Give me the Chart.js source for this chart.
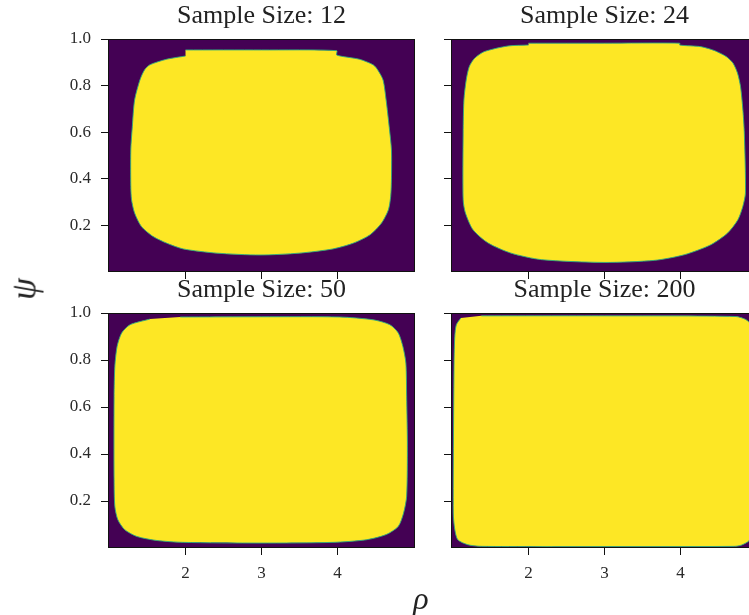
<!DOCTYPE html>
<html>
<head>
<meta charset="utf-8">
<script src="https://cdn.jsdelivr.net/npm/chart.js@4.4.1/dist/chart.umd.min.js"></script>
<style>
  html, body { margin: 0; padding: 0; width: 749px; height: 615px; overflow: hidden; background: #fff; }
  canvas { position: absolute; }
  .lab { position: absolute; font-family: "Liberation Serif", serif; font-style: italic; color: #222;
         line-height: 1; transform: translate(-50%, -50%); white-space: nowrap; }
</style>
</head>
<body>
<canvas id="p12"  width="420" height="296" style="left:0;top:0"></canvas>
<canvas id="p24"  width="322" height="296" style="left:441px;top:0"></canvas>
<canvas id="p50"  width="420" height="319" style="left:0;top:274px"></canvas>
<canvas id="p200" width="322" height="319" style="left:441px;top:274px"></canvas>
<div class="lab" id="lab-psi" style="left:24px;top:289px;font-size:35px;transform:translate(-50%,-50%) rotate(-90deg)">ψ</div>
<div class="lab" id="lab-rho" style="left:421px;top:598px;font-size:32px">ρ</div>

<script>
/* ── Axes ─────────────────────────────────────────────────── */
const RHO_MIN = 0.98, RHO_MAX = 5.02;
const PSI_MIN = 0,    PSI_MAX = 1.0;
const xTicks  = [2, 3, 4];
const yTicks  = [0.2, 0.4, 0.6, 0.8, 1.0];

/* ── Frontière de la région (clé = taille d'échantillon) ──── */
const bord12X = [2.00, 3.00, 3.99, 3.99, 4.29, 4.47, 4.53, 4.60, 4.64, 4.68, 4.71, 4.71, 4.70, 4.67, 4.58,
                 4.43, 4.21, 3.94, 3.50, 2.98, 2.41, 1.97, 1.75, 1.57, 1.42, 1.33, 1.29, 1.28, 1.28, 1.30,
                 1.33, 1.40, 1.46, 1.53, 1.75, 2.00];
const bord12Y = [0.953, 0.953, 0.950, 0.931, 0.913, 0.889, 0.867, 0.824, 0.738, 0.624, 0.524, 0.396, 0.324, 0.267, 0.210,
                 0.160, 0.124, 0.099, 0.081, 0.073, 0.081, 0.099, 0.124, 0.153, 0.195, 0.253, 0.310, 0.367, 0.524, 0.624,
                 0.738, 0.824, 0.867, 0.889, 0.913, 0.927];

const bord24X = [2.00, 3.00, 3.99, 3.99, 4.27, 4.45, 4.60, 4.69, 4.75, 4.79, 4.82, 4.84, 4.855, 4.82, 4.755,
                 4.62, 4.40, 4.05, 3.66, 3.00, 2.17, 1.77, 1.47, 1.27, 1.17, 1.14, 1.14, 1.15, 1.18, 1.22,
                 1.29, 1.42, 1.73, 2.00];
const bord24Y = [0.982, 0.982, 0.982, 0.974, 0.967, 0.950, 0.925, 0.897, 0.854, 0.796, 0.700, 0.596, 0.340, 0.281, 0.224,
                 0.167, 0.117, 0.074, 0.050, 0.041, 0.053, 0.081, 0.124, 0.181, 0.253, 0.310, 0.596, 0.738, 0.824, 0.881,
                 0.917, 0.946, 0.970, 0.974];

const bord50X = [1.93, 3.00, 4.03, 4.47, 4.69, 4.80, 4.86, 4.90, 4.91, 4.92, 4.91, 4.87, 4.80, 4.64, 4.38,
                 3.94, 2.98, 1.97, 1.62, 1.36, 1.20, 1.11, 1.07, 1.06, 1.06, 1.07, 1.10, 1.16, 1.27, 1.53];
const bord50Y = [0.983, 0.984, 0.983, 0.971, 0.950, 0.915, 0.858, 0.787, 0.645, 0.433, 0.220, 0.149, 0.092, 0.057, 0.035,
                 0.024, 0.021, 0.024, 0.032, 0.049, 0.078, 0.120, 0.177, 0.291, 0.645, 0.773, 0.858, 0.915, 0.950, 0.974];

const bord200X = [1.38, 3.00, 4.73, 4.86, 4.93, 4.96, 4.96, 4.95, 4.90, 4.80, 4.71, 3.00, 1.38, 1.20, 1.07,
                  1.03, 1.01, 1.02, 1.03, 1.05, 1.11];
const bord200Y = [0.988, 0.988, 0.985, 0.972, 0.950, 0.900, 0.100, 0.060, 0.030, 0.012, 0.007, 0.006, 0.007, 0.014, 0.035,
                  0.078, 0.149, 0.787, 0.901, 0.950, 0.979];

/* ── Couleurs viridis (0 / 1) ─────────────────────────────── */
const VIRIDIS_BAS  = '#440154';
const VIRIDIS_HAUT = '#fde725';
const VIRIDIS_BORD = 'rgba(45,170,125,0.9)';
const POLICE       = '"Liberation Serif", "Times New Roman", serif';

/* Fond violet + cadre noir de la zone de tracé */
const fondCadre = {
  id: 'fondCadre',
  beforeDatasetsDraw(chart) {
    const { ctx, chartArea: a } = chart;
    ctx.save();
    ctx.fillStyle = VIRIDIS_BAS;
    ctx.fillRect(a.left, a.top, a.width, a.height);
    ctx.restore();
  },
  afterDatasetsDraw(chart) {
    const { ctx, chartArea: a } = chart;
    ctx.save();
    ctx.strokeStyle = '#111';
    ctx.lineWidth = 1;
    ctx.strokeRect(a.left + 0.5, a.top + 0.5, a.width - 1, a.height - 1);
    ctx.restore();
  },
};

/* ══════════════════════════════════════════════════════════
   creerPanneau — un sous-graphe de la grille 2×2
   ══════════════════════════════════════════════════════════ */
function creerPanneau(id, titre, xs, ys, opt) {
  const points = xs.map((x, i) => ({ x, y: ys[i] }));

  return new Chart(document.getElementById(id).getContext('2d'), {
    type: 'scatter',
    data: {
      datasets: [{
        data            : points,
        showLine        : true,
        fill            : 'shape',
        backgroundColor : VIRIDIS_HAUT,
        borderColor     : VIRIDIS_BORD,
        borderWidth     : 1,
        pointRadius     : 0,
        tension         : 0.25,
      }],
    },
    options: {
      responsive : false,
      animation  : false,
      layout     : { autoPadding: false, padding: { left: 0, right: 5, top: 0, bottom: 0 } },
      plugins: {
        legend  : { display: false },
        tooltip : { enabled: false },
        title   : {
          display   : true,
          text      : titre,
          fullSize  : false,
          color     : '#222',
          font      : { family: POLICE, size: 26, weight: 'normal', lineHeight: 1.2 },
          padding   : { top: 1, bottom: 39 - 1 - 31.2 },
        },
      },
      scales: {
        x: {
          type : 'linear',
          min  : RHO_MIN, max: RHO_MAX,
          afterBuildTicks : s => { s.ticks = xTicks.map(v => ({ value: v })); },
          afterFit        : s => { s.height = opt.hautX; },
          border : { display: false },
          grid   : { drawOnChartArea: false, drawTicks: true, tickLength: 7, tickColor: '#111' },
          ticks  : {
            color: '#2a2a2a', padding: 8, maxRotation: 0, autoSkip: false,
            font: { family: POLICE, size: 17 },
            callback: v => opt.labelsX ? String(v) : '',
          },
        },
        y: {
          type : 'linear',
          min  : PSI_MIN, max: PSI_MAX,
          afterBuildTicks : s => { s.ticks = yTicks.map(v => ({ value: v })); },
          afterFit        : s => { s.width = opt.largY; },
          border : { display: false },
          grid   : { drawOnChartArea: false, drawTicks: true, tickLength: 7, tickColor: '#111' },
          ticks  : {
            color: '#2a2a2a', padding: 10, autoSkip: false,
            font: { family: POLICE, size: 17 },
            callback: v => opt.labelsY ? v.toFixed(1) : '',
          },
        },
      },
    },
    plugins: [fondCadre],
  });
}

/* ── Initialisation ───────────────────────────────────────── */
creerPanneau('p12',  'Sample Size: 12',  bord12X,  bord12Y,  { largY: 108, hautX: 24, labelsX: false, labelsY: true  });
creerPanneau('p24',  'Sample Size: 24',  bord24X,  bord24Y,  { largY: 10,  hautX: 24, labelsX: false, labelsY: false });
creerPanneau('p50',  'Sample Size: 50',  bord50X,  bord50Y,  { largY: 108, hautX: 45, labelsX: true,  labelsY: true  });
creerPanneau('p200', 'Sample Size: 200', bord200X, bord200Y, { largY: 10,  hautX: 45, labelsX: true,  labelsY: false });
</script>
</body>
</html>
